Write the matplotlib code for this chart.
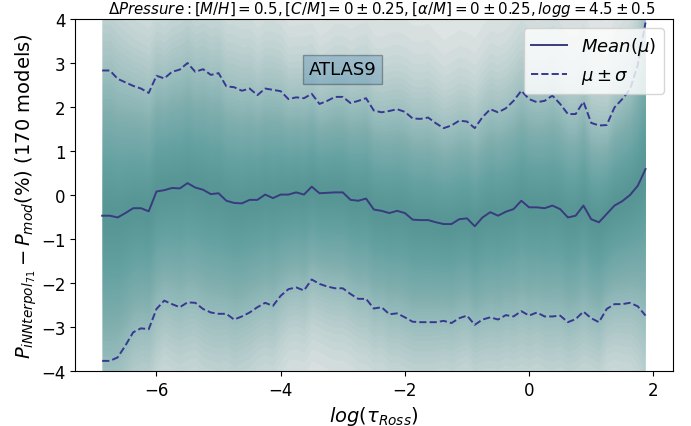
import numpy as np
import matplotlib
matplotlib.use("Agg")
import matplotlib.pyplot as plt

# x grid (ATLAS9 log tau_Ross layers)
log_tau = np.linspace(-6.875, 1.875, 71)

mean_vals = [-0.47, -0.47, -0.51, -0.41, -0.30, -0.30, -0.37, 0.08, 0.11, 0.16,
             0.15, 0.27, 0.17, 0.12, 0.02, 0.04, -0.13, -0.18, -0.19, -0.11,
             -0.11, 0.01, -0.07, 0.01, 0.01, 0.06, 0.01, 0.19, 0.04, 0.05,
             0.06, 0.06, -0.11, -0.13, -0.08, -0.33, -0.36, -0.41, -0.36, -0.41,
             -0.56, -0.57, -0.57, -0.62, -0.66, -0.66, -0.55, -0.53, -0.71, -0.51,
             -0.39, -0.47, -0.38, -0.32, -0.13, -0.28, -0.28, -0.30, -0.24, -0.32,
             -0.51, -0.47, -0.24, -0.55, -0.62, -0.43, -0.24, -0.14, 0.00, 0.21, 0.59]

upper_vals = [2.83, 2.83, 2.64, 2.56, 2.48, 2.42, 2.32, 2.71, 2.65, 2.80,
              2.85, 3.00, 2.80, 2.86, 2.73, 2.77, 2.47, 2.45, 2.37, 2.42,
              2.27, 2.42, 2.39, 2.36, 2.18, 2.22, 2.20, 2.30, 2.07, 2.14,
              2.23, 2.23, 2.09, 2.14, 2.20, 1.92, 1.88, 1.91, 1.95, 1.89,
              1.74, 1.73, 1.76, 1.63, 1.52, 1.58, 1.69, 1.67, 1.52, 1.77,
              1.95, 1.88, 1.97, 2.14, 2.37, 2.18, 2.11, 2.14, 2.26, 2.07,
              1.84, 1.84, 2.12, 1.64, 1.58, 1.59, 1.99, 2.18, 2.40, 2.95, 3.92]

lower_vals = [-3.77, -3.77, -3.69, -3.42, -3.12, -3.03, -3.05, -2.59, -2.40, -2.48,
              -2.55, -2.44, -2.45, -2.59, -2.67, -2.70, -2.70, -2.83, -2.76, -2.67,
              -2.55, -2.45, -2.52, -2.29, -2.14, -2.10, -2.17, -1.92, -2.02, -2.08,
              -2.12, -2.12, -2.25, -2.36, -2.36, -2.58, -2.55, -2.71, -2.69, -2.78,
              -2.88, -2.89, -2.89, -2.89, -2.86, -2.91, -2.80, -2.74, -2.95, -2.83,
              -2.78, -2.83, -2.73, -2.76, -2.64, -2.74, -2.67, -2.76, -2.76, -2.74,
              -2.89, -2.82, -2.65, -2.80, -2.89, -2.59, -2.48, -2.48, -2.45, -2.53, -2.74]

title = (r'$\Delta Pressure: [M/H] = 0.5, [C/M] = 0 \pm 0.25, '
         r'[\alpha/M] = 0 \pm 0.25, logg = 4.5 \pm 0.5$')
ylabel = r'$P_{iNNterpol_{71}} - P_{mod} (\%)$ (170 models)'
xlabel = r'$log(\tau_{Ross})$'

mean = np.array(mean_vals)
upper = np.array(upper_vals)
lower = np.array(lower_vals)
sd_up = upper - mean
sd_lo = mean - lower

fig = plt.figure(figsize=(6.91, 4.27), dpi=100)
ax = fig.add_axes([0.1085, 0.1288, 0.8650, 0.8243])

# spread of the models rendered as stacked translucent bands
ax.fill_between(log_tau, mean - 4.0 * sd_lo, mean + 4.0 * sd_up,
                color='#ebebeb', lw=0, zorder=1)
teal = '#4b9696'
n_band = 50
u = (np.arange(n_band) + 0.5) / n_band
k_up = (-np.log(u) / 1.2) ** (1 / 1.4)
k_lo = (-np.log(u) / 1.1) ** (1 / 1.4)
a = 1 - np.exp(-2.0 / n_band)
for ku in k_up:
    ax.fill_between(log_tau, mean, mean + ku * sd_up, color=teal, alpha=a,
                    lw=0, zorder=2)
for kl in k_lo:
    ax.fill_between(log_tau, mean - kl * sd_lo, mean, color=teal, alpha=a,
                    lw=0, zorder=2)

ax.plot(log_tau, mean, color='#3a3a7c', lw=1.4, label=r'$Mean(\mu)$', zorder=5)
ax.plot(log_tau, upper, color='#383892', lw=1.4, ls='--',
        label=r'$\mu \pm \sigma$', zorder=5)
ax.plot(log_tau, lower, color='#383892', lw=1.4, ls='--', zorder=5)

ax.set_ylim(-4, 4)
ax.set_xlim(-7.3125, 2.3125)
ax.set_xticks([-6, -4, -2, 0, 2])
ax.tick_params(labelsize=12)
ax.set_title(title, fontsize=10.8, pad=4, x=0.513)
ax.set_xlabel(xlabel, fontsize=14)
ax.set_ylabel(ylabel, fontsize=14, labelpad=1)

ax.text(0.448, 0.857, 'ATLAS9', transform=ax.transAxes, fontsize=13,
        ha='center', va='center', zorder=6,
        bbox=dict(facecolor='steelblue', alpha=0.3))

ax.legend(loc='upper right', fontsize=13)

fig.savefig('out.png', dpi=100)
